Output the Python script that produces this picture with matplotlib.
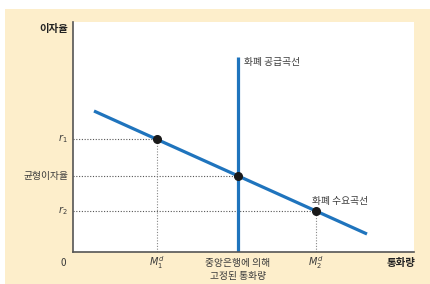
import matplotlib
matplotlib.use("Agg")
import matplotlib.pyplot as plt
from matplotlib.patches import Rectangle

plt.rcParams['font.family'] = ['Noto Sans CJK KR', 'DejaVu Sans']
plt.rcParams['mathtext.fontset'] = 'dejavusans'

# Data (arbitrary units: money quantity on x, interest rate on y)
demand_x = [21, 294]
demand_y = [141, 18]
supply_x = [165, 165]
supply_y = [0, 195]
point_x = [84, 165, 243]
point_y = [113, 76, 41]
xtick_labels = [r'$M_1^d$', '중앙은행에 의해', r'$M_2^d$']
ytick_labels = [r'$r_1$', '균형이자율', r'$r_2$']

blue = '#1f74bd'
beige = '#fdeecb'
txt = '#3a3a3a'

fig = plt.figure(figsize=(4.3, 2.84), dpi=100)
fig.patch.set_facecolor('white')
fig.patches.append(Rectangle((5/430, 0), 1 - 5/430, 1 - 9/284, transform=fig.transFigure,
                             facecolor=beige, edgecolor='none', zorder=-10))

ax = fig.add_axes([73/430, 32/284, 341/430, 230/284])
ax.set_zorder(5)
ax.set_facecolor('white')
ax.set_xlim(0, 341)
ax.set_ylim(0, 230)
for s in ['top', 'right']:
    ax.spines[s].set_visible(False)
for s in ['left', 'bottom']:
    ax.spines[s].set_color('#555555')
    ax.spines[s].set_linewidth(1.2)
ax.set_xticks([])
ax.set_yticks([])

# dotted guide lines
for px, py in zip(point_x, point_y):
    ax.plot([0, px], [py, py], linestyle=(0, (1, 1.5)), color='#555555', lw=0.8, zorder=1)
for px, py in zip([point_x[0], point_x[2]], [point_y[0], point_y[2]]):
    ax.plot([px, px], [0, py], linestyle=(0, (1, 1.5)), color='#888888', lw=0.8, zorder=1)

ax.plot(demand_x, demand_y, color=blue, lw=2.3, solid_capstyle='butt', zorder=2)
ax.plot(supply_x, supply_y, color=blue, lw=2.3, solid_capstyle='butt', zorder=2)
ax.plot(point_x, point_y, 'o', color='#1a1a1a', markersize=5.5, zorder=3)

ax.text(171, 190, '화폐 공급곡선', fontsize=7, color=txt, ha='left', va='center')
ax.text(239, 51, '화폐 수요곡선', fontsize=7, color=txt, ha='left', va='center')

# y labels
ax.text(-5, 223, '이자율', fontsize=7.5, color='#222222', ha='right', va='center', fontweight='bold')
for py, lab in zip(point_y, ytick_labels):
    ax.text(-5, py, lab, fontsize=7, color=txt, ha='right', va='center')
ax.text(-10, -11, '0', fontsize=7, color=txt, ha='center', va='center')

# x labels
for px, lab in zip(point_x, xtick_labels):
    ax.text(px, -11, lab, fontsize=7, color=txt, ha='center', va='center')
ax.text(165, -24, '고정된 통화량', fontsize=7, color=txt, ha='center', va='center')
ax.text(328, -11, '통화량', fontsize=7.5, color='#222222', ha='center', va='center', fontweight='bold')

fig.savefig('out.png', dpi=100, facecolor=fig.get_facecolor())
